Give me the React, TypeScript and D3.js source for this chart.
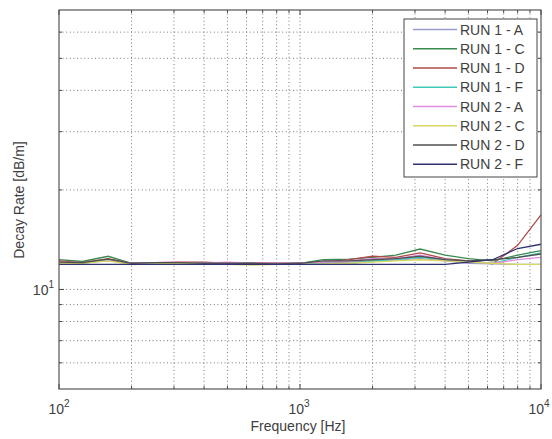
import React from "react";
import * as d3 from "d3";

const freqs = [100, 125, 160, 200, 250, 315, 400, 500, 630, 800, 1000, 1250, 1600, 2000, 2500, 3150, 4000, 5000, 6300, 8000, 10000];

const run1A = [12.1, 12.05, 12.3, 11.95, 12.0, 12.05, 12.0, 12.0, 12.0, 11.95, 11.95, 12.0, 12.1, 12.2, 12.3, 12.4, 12.2, 12.0, 11.95, 11.9, 11.9];
const run1C = [12.3, 12.15, 12.6, 12.0, 12.0, 12.05, 12.0, 12.05, 12.0, 12.0, 12.0, 12.3, 12.35, 12.5, 12.7, 13.25, 12.7, 12.4, 12.2, 12.7, 13.1];
const run1D = [12.2, 12.05, 12.4, 12.0, 12.05, 12.1, 12.1, 12.0, 12.05, 12.0, 12.0, 12.1, 12.3, 12.6, 12.5, 12.9, 12.4, 12.2, 11.95, 13.6, 16.8];
const run1F = [12.0, 12.0, 12.3, 11.95, 12.0, 12.0, 12.0, 12.0, 12.0, 11.95, 11.95, 12.0, 11.95, 12.2, 12.3, 12.5, 12.3, 12.1, 12.0, 12.5, 12.9];
const run2A = [12.1, 12.05, 12.2, 12.0, 12.05, 12.1, 12.0, 12.1, 12.0, 12.0, 12.0, 12.1, 12.2, 12.4, 12.4, 12.7, 12.3, 12.1, 12.0, 12.3, 12.5];
const run2C = [12.0, 12.0, 12.2, 11.9, 11.95, 12.0, 11.95, 11.9, 11.85, 11.9, 11.9, 11.95, 12.0, 12.1, 12.2, 12.3, 12.2, 12.1, 12.0, 11.9, 11.9];
const run2D = [12.1, 12.05, 12.35, 12.0, 12.05, 12.05, 12.0, 12.0, 12.0, 11.95, 12.0, 12.2, 12.2, 12.3, 12.4, 12.6, 12.3, 12.2, 12.3, 12.5, 12.8];
const run2F = [11.9, 11.9, 11.9, 11.9, 11.9, 11.9, 11.9, 11.9, 11.9, 11.9, 11.9, 11.9, 11.9, 11.9, 11.9, 11.9, 11.9, 12.1, 12.3, 13.3, 13.7];

const seriesNames = ["RUN 1 - A", "RUN 1 - C", "RUN 1 - D", "RUN 1 - F", "RUN 2 - A", "RUN 2 - C", "RUN 2 - D", "RUN 2 - F"];
const seriesValues = [run1A, run1C, run1D, run1F, run2A, run2C, run2D, run2F];
const seriesColors = ["#9a9acc", "#3a8a50", "#b04a4a", "#40c8b8", "#e08ce0", "#d8d860", "#505050", "#303070"];

const xMajor = [100, 1000, 10000];
const xMinor = [200, 300, 400, 500, 600, 700, 800, 900, 2000, 3000, 4000, 5000, 6000, 7000, 8000, 9000];
const yMajor = [10];
const yMinor = [6, 7, 8, 9, 20, 30, 40, 50, 60];
const xDomain = [100, 10000];
const yDomain = [5, 70];

const L = 59, R = 541, T = 10, B = 389;
const FONT = "'Liberation Sans', Arial, Helvetica, sans-serif";
const TXT = "#404040";

export default function App() {
  const x = d3.scaleLog().domain(xDomain).range([L, R]);
  const y = d3.scaleLog().domain(yDomain).range([B, T]);
  const line = d3.line<[number, number]>().x(d => x(d[0])).y(d => y(d[1]));

  const gridStyle = { stroke: "#7a7a7a", strokeWidth: 1, strokeDasharray: "1,2.6" };
  const gx = [...xMinor, 1000];
  const gy = [...yMinor, 10];

  return (
    <svg width={552} height={439} style={{ position: "absolute", left: 0, top: 0, background: "#fff" }} fontFamily={FONT}>
      <rect x={0} y={0} width={552} height={439} fill="#fff" />
      {gx.map(v => (
        <line key={"gx" + v} x1={x(v)} x2={x(v)} y1={T} y2={B} {...gridStyle} />
      ))}
      {gy.map(v => (
        <line key={"gy" + v} x1={L} x2={R} y1={y(v)} y2={y(v)} {...gridStyle} />
      ))}
      {seriesValues.map((vals, i) => (
        <path key={"s" + i} d={line(freqs.map((f, j) => [f, vals[j]] as [number, number])) || ""} fill="none" stroke={seriesColors[i]} strokeWidth={1.3} />
      ))}
      {[...xMinor, ...xMajor].map(v => {
        const len = xMajor.includes(v) ? 5 : 3;
        return (
          <g key={"tx" + v}>
            <line x1={x(v)} x2={x(v)} y1={B} y2={B - len} stroke="#444" />
            <line x1={x(v)} x2={x(v)} y1={T} y2={T + len} stroke="#444" />
          </g>
        );
      })}
      {[...yMinor, ...yMajor].map(v => {
        const len = yMajor.includes(v) ? 5 : 3;
        return (
          <g key={"ty" + v}>
            <line x1={L} x2={L + len} y1={y(v)} y2={y(v)} stroke="#444" />
            <line x1={R} x2={R - len} y1={y(v)} y2={y(v)} stroke="#444" />
          </g>
        );
      })}
      <rect x={L} y={T} width={R - L} height={B - T} fill="none" stroke="#555" strokeWidth={1.2} />
      {xMajor.map(v => (
        <text key={"xl" + v} x={x(v) - (v === 10000 ? 2 : v === 1000 ? 1 : 0)} y={414} textAnchor="middle" fontSize={14} fill={TXT}>
          10<tspan fontSize={10} dy={-7}>{Math.round(Math.log10(v))}</tspan>
        </text>
      ))}
      {yMajor.map(v => (
        <text key={"yl" + v} x={54} y={y(v) + 6} textAnchor="end" fontSize={14} fill={TXT}>
          10<tspan fontSize={10} dy={-7}>{Math.round(Math.log10(v))}</tspan>
        </text>
      ))}
      <text x={298} y={431} textAnchor="middle" fontSize={14} fill={TXT}>Frequency [Hz]</text>
      <text transform="translate(24,200) rotate(-90)" textAnchor="middle" fontSize={14} fill={TXT}>Decay Rate [dB/m]</text>
      <rect x={404} y={19} width={133} height={158} fill="#fff" stroke="#444" strokeWidth={1} />
      {seriesNames.map((name, i) => {
        const yy = 29.5 + i * 19.25;
        return (
          <g key={"lg" + i}>
            <line x1={413} x2={457} y1={yy} y2={yy} stroke={seriesColors[i]} strokeWidth={1.4} />
            <text x={460} y={yy + 5} fontSize={14} fill={TXT}>{name}</text>
          </g>
        );
      })}
    </svg>
  );
}
